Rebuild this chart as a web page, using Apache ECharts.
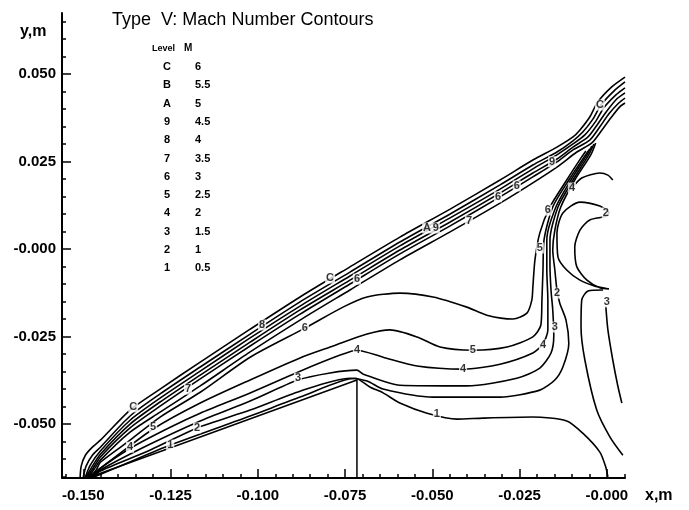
<!DOCTYPE html>
<html>
<head>
<meta charset="utf-8">
<script src="https://cdn.jsdelivr.net/npm/echarts@6/dist/echarts.min.js"></script>
<style>html,body{margin:0;padding:0;background:#fff;}#c{width:689px;height:510px;}</style>
</head>
<body>
<div id="c"></div>
<script>
// ---- axis ticks ----
const xMajorTicks = [-0.150,-0.125,-0.100,-0.075,-0.050,-0.025,0.000];
const xMajorLabels = ['-0.150','-0.125','-0.100','-0.075','-0.050','-0.025','-0.000'];
const xMinorTicks = [-0.155,-0.145,-0.140,-0.135,-0.130,-0.120,-0.115,-0.110,-0.105,-0.095,-0.090,-0.085,-0.080,-0.070,-0.065,-0.060,-0.055,-0.045,-0.040,-0.035,-0.030,-0.020,-0.015,-0.010,-0.005,0.005];
const yMajorTicks = [-0.050,-0.025,0.000,0.025,0.050];
const yMajorLabels = ['-0.050','-0.025','-0.000','0.025','0.050'];
const yMinorTicks = [-0.065,-0.060,-0.055,-0.045,-0.040,-0.035,-0.030,-0.020,-0.015,-0.010,-0.005,0.005,0.010,0.015,0.020,0.030,0.035,0.040,0.045,0.055,0.060,0.065];

// ---- level table ----
const levelNames = ['C','B','A','9','8','7','6','5','4','3','2','1'];
const levelMach = ['6','5.5','5','4.5','4','3.5','3','2.5','2','1.5','1','0.5'];

// ---- contour lines (x, y in metres) ----
const contourC = [[-0.1509,-0.0651],[-0.1506,-0.0620],[-0.1494,-0.0589],[-0.1474,-0.0566],[-0.1451,-0.0546],[-0.1366,-0.0460],[-0.1280,-0.0400],[-0.1165,-0.0323],[-0.1022,-0.0229],[-0.0879,-0.0137],[-0.0736,-0.0051],[-0.0593,0.0034],[-0.0449,0.0114],[-0.0306,0.0197],[-0.0212,0.0254],[-0.0143,0.0291],[-0.0097,0.0320],[-0.0077,0.0340],[-0.0049,0.0377],[-0.0026,0.0420],[0.0014,0.0463],[0.0052,0.0491]];
const contourB = [[-0.1500,-0.0651],[-0.1492,-0.0620],[-0.1474,-0.0589],[-0.1451,-0.0566],[-0.1366,-0.0477],[-0.1280,-0.0414],[-0.1165,-0.0337],[-0.1022,-0.0243],[-0.0879,-0.0151],[-0.0736,-0.0066],[-0.0593,0.0020],[-0.0449,0.0100],[-0.0306,0.0183],[-0.0212,0.0240],[-0.0143,0.0277],[-0.0097,0.0309],[-0.0069,0.0334],[-0.0040,0.0371],[-0.0017,0.0411],[0.0020,0.0451],[0.0052,0.0477]];
const contourA = [[-0.1494,-0.0651],[-0.1480,-0.0617],[-0.1451,-0.0577],[-0.1366,-0.0489],[-0.1280,-0.0426],[-0.1165,-0.0349],[-0.1022,-0.0254],[-0.0879,-0.0163],[-0.0736,-0.0077],[-0.0593,0.0009],[-0.0449,0.0089],[-0.0306,0.0171],[-0.0212,0.0229],[-0.0143,0.0269],[-0.0097,0.0300],[-0.0063,0.0326],[-0.0031,0.0366],[-0.0009,0.0403],[0.0026,0.0440],[0.0052,0.0460]];
const contour9 = [[-0.1492,-0.0651],[-0.1474,-0.0620],[-0.1451,-0.0586],[-0.1366,-0.0500],[-0.1280,-0.0437],[-0.1165,-0.0360],[-0.1022,-0.0266],[-0.0879,-0.0174],[-0.0736,-0.0089],[-0.0593,-0.0003],[-0.0449,0.0077],[-0.0306,0.0160],[-0.0212,0.0217],[-0.0143,0.0257],[-0.0097,0.0291],[-0.0054,0.0320],[-0.0026,0.0357],[0.0000,0.0394],[0.0029,0.0429],[0.0052,0.0446]];
const contour8 = [[-0.1489,-0.0651],[-0.1472,-0.0626],[-0.1451,-0.0594],[-0.1366,-0.0511],[-0.1280,-0.0449],[-0.1165,-0.0371],[-0.1022,-0.0277],[-0.0879,-0.0186],[-0.0736,-0.0100],[-0.0593,-0.0014],[-0.0449,0.0066],[-0.0306,0.0149],[-0.0212,0.0206],[-0.0143,0.0249],[-0.0097,0.0283],[-0.0049,0.0311],[-0.0020,0.0349],[0.0006,0.0386],[0.0034,0.0417],[0.0052,0.0431]];
const contour7 = [[-0.1486,-0.0651],[-0.1469,-0.0629],[-0.1451,-0.0603],[-0.1366,-0.0523],[-0.1280,-0.0466],[-0.1165,-0.0391],[-0.1022,-0.0294],[-0.0879,-0.0203],[-0.0736,-0.0117],[-0.0593,-0.0031],[-0.0449,0.0049],[-0.0306,0.0131],[-0.0212,0.0189],[-0.0143,0.0234],[-0.0086,0.0277],[-0.0043,0.0303],[-0.0014,0.0340],[0.0011,0.0374],[0.0037,0.0406],[0.0052,0.0417]];
const contour6 = [[-0.1483,-0.0651],[-0.1463,-0.0631],[-0.1451,-0.0609],[-0.1366,-0.0546],[-0.1280,-0.0480],[-0.1165,-0.0409],[-0.1022,-0.0309],[-0.0865,-0.0226],[-0.0756,-0.0166],[-0.0687,-0.0137],[-0.0593,-0.0126],[-0.0498,-0.0137],[-0.0401,-0.0166],[-0.0344,-0.0189],[-0.0269,-0.0200],[-0.0229,-0.0183],[-0.0215,-0.0146],[-0.0212,-0.0109],[-0.0206,-0.0031],[-0.0192,0.0046],[-0.0163,0.0120],[-0.0115,0.0197],[-0.0072,0.0263],[-0.0060,0.0280]];
const contour5 = [[-0.1480,-0.0651],[-0.1457,-0.0631],[-0.1394,-0.0583],[-0.1300,-0.0514],[-0.1165,-0.0440],[-0.1022,-0.0374],[-0.0879,-0.0311],[-0.0784,-0.0277],[-0.0687,-0.0243],[-0.0621,-0.0231],[-0.0544,-0.0251],[-0.0478,-0.0280],[-0.0384,-0.0289],[-0.0286,-0.0280],[-0.0212,-0.0251],[-0.0189,-0.0217],[-0.0186,-0.0146],[-0.0183,-0.0060],[-0.0180,0.0026],[-0.0155,0.0120],[-0.0109,0.0197],[-0.0063,0.0266],[-0.0049,0.0286]];
const contour4 = [[-0.1477,-0.0651],[-0.1451,-0.0626],[-0.1360,-0.0566],[-0.1251,-0.0509],[-0.1165,-0.0469],[-0.1022,-0.0411],[-0.0879,-0.0349],[-0.0764,-0.0303],[-0.0716,-0.0289],[-0.0641,-0.0309],[-0.0544,-0.0334],[-0.0412,-0.0343],[-0.0306,-0.0329],[-0.0212,-0.0297],[-0.0183,-0.0271],[-0.0169,-0.0231],[-0.0169,-0.0146],[-0.0172,-0.0060],[-0.0172,0.0026],[-0.0146,0.0120],[-0.0103,0.0197],[-0.0057,0.0269],[-0.0043,0.0294]];
const contour3 = [[-0.1474,-0.0651],[-0.1451,-0.0631],[-0.1308,-0.0557],[-0.1165,-0.0491],[-0.1022,-0.0434],[-0.0885,-0.0374],[-0.0793,-0.0354],[-0.0716,-0.0346],[-0.0699,-0.0357],[-0.0593,-0.0389],[-0.0401,-0.0391],[-0.0258,-0.0369],[-0.0192,-0.0340],[-0.0160,-0.0297],[-0.0152,-0.0246],[-0.0155,-0.0174],[-0.0160,-0.0117],[-0.0163,-0.0046],[-0.0163,0.0026],[-0.0140,0.0120],[-0.0097,0.0197],[-0.0052,0.0269],[-0.0037,0.0300]];
const contour2 = [[-0.1472,-0.0651],[-0.1451,-0.0634],[-0.1308,-0.0574],[-0.1174,-0.0511],[-0.1022,-0.0460],[-0.0879,-0.0406],[-0.0736,-0.0369],[-0.0687,-0.0377],[-0.0641,-0.0400],[-0.0498,-0.0423],[-0.0306,-0.0423],[-0.0192,-0.0403],[-0.0149,-0.0374],[-0.0126,-0.0337],[-0.0109,-0.0269],[-0.0117,-0.0203],[-0.0135,-0.0154],[-0.0143,-0.0117],[-0.0149,-0.0060],[-0.0155,-0.0003],[-0.0149,0.0054],[-0.0132,0.0120],[-0.0092,0.0197],[-0.0046,0.0269],[-0.0032,0.0303]];
const contour1 = [[-0.1469,-0.0651],[-0.1394,-0.0620],[-0.1251,-0.0560],[-0.1022,-0.0477],[-0.0879,-0.0423],[-0.0721,-0.0369],[-0.0679,-0.0394],[-0.0641,-0.0411],[-0.0593,-0.0440],[-0.0515,-0.0469],[-0.0429,-0.0486],[-0.0355,-0.0483],[-0.0212,-0.0480],[-0.0115,-0.0491],[-0.0069,-0.0526],[-0.0020,-0.0580],[-0.0003,-0.0623],[0.0003,-0.0651]];
const contourArc4 = [[-0.0100,0.0174],[-0.0072,0.0203],[-0.0020,0.0217],[0.0003,0.0211],[0.0017,0.0197]];
const contourCrescent2 = [[0.0006,0.0106],[-0.0020,0.0123],[-0.0077,0.0134],[-0.0126,0.0103],[-0.0143,0.0046],[-0.0140,-0.0023],[-0.0115,-0.0060],[-0.0077,-0.0089],[-0.0034,-0.0106],[0.0006,-0.0114],[-0.0020,-0.0111],[-0.0057,-0.0089],[-0.0086,-0.0051],[-0.0092,0.0006],[-0.0077,0.0054],[-0.0049,0.0083],[0.0000,0.0094],[0.0006,0.0106]];
const contourRight2 = [[-0.0011,-0.0117],[-0.0054,-0.0120],[-0.0072,-0.0146],[-0.0074,-0.0223],[-0.0063,-0.0317],[-0.0029,-0.0460],[0.0009,-0.0537],[0.0046,-0.0589]];
const contourRight3 = [[-0.0003,-0.0163],[0.0003,-0.0231],[0.0017,-0.0317],[0.0031,-0.0389],[0.0043,-0.0440]];
// body (wedge surface and base)
const bodyOutline = [[-0.1480,-0.0651],[-0.0716,-0.0374],[-0.0716,-0.0654]];

// ---- inline contour labels ----
const contourLabels = [
  ['C',-0.1357,-0.0451],['7',-0.1200,-0.0400],['5',-0.1300,-0.0509],['4',-0.1366,-0.0566],
  ['1',-0.1251,-0.0560],['2',-0.1174,-0.0511],['3',-0.0885,-0.0369],['4',-0.0716,-0.0289],
  ['6',-0.0865,-0.0226],['8',-0.0988,-0.0217],['C',-0.0793,-0.0083],['6',-0.0716,-0.0086],
  ['A',-0.0515,0.0060],['9',-0.0490,0.0060],['7',-0.0395,0.0080],['6',-0.0312,0.0149],
  ['6',-0.0258,0.0180],['9',-0.0157,0.0249],['5',-0.0384,-0.0289],['4',-0.0412,-0.0343],
  ['1',-0.0487,-0.0471],['4',-0.0183,-0.0274],['3',-0.0149,-0.0223],['2',-0.0143,-0.0126],
  ['6',-0.0169,0.0111],['5',-0.0192,0.0003],['4',-0.0100,0.0174],['2',-0.0003,0.0103],
  ['3',0.0000,-0.0151],['C',-0.0020,0.0411]
];

const contours = [contourC, contourB, contourA, contour9, contour8, contour7, contour6, contour5,
  contour4, contour3, contour2, contour1, contourArc4, contourCrescent2, contourRight2, contourRight3];

const chart = echarts.init(document.getElementById('c'), null, {renderer: 'canvas'});
const FONT = 'Liberation Sans, Arial, sans-serif';

function labelFor(ticks, labels) {
  return function (v) {
    for (let i = 0; i < ticks.length; i++) if (Math.abs(ticks[i] - v) < 1e-9) return labels[i];
    return '';
  };
}

const series = contours.map(function (d) {
  return {
    type: 'line', data: d, showSymbol: false, smooth: 0.25, silent: true,
    lineStyle: {color: '#000', width: 1.6}, z: 2
  };
});
series.push({
  type: 'line', data: bodyOutline, showSymbol: false, smooth: false, silent: true,
  lineStyle: {color: '#000', width: 1.5}, z: 2
});
series.push({
  type: 'scatter', silent: true, symbolSize: 1, itemStyle: {color: 'rgba(0,0,0,0)'}, z: 5,
  data: contourLabels.map(function (l) { return {name: l[0], value: [l[1], l[2]]}; }),
  label: {show: true, position: 'inside', formatter: '{b}', fontSize: 11, fontWeight: 'bold',
    fontFamily: FONT, color: '#000', backgroundColor: '#fff', padding: [0, 1]}
});

const graphics = [
  {type: 'text', left: 20, top: 24, style: {text: 'y,m', font: 'bold 16px ' + FONT, fill: '#000'}},
  {type: 'text', left: 645, top: 488, style: {text: 'x,m', font: 'bold 16px ' + FONT, fill: '#000'}},
  {type: 'text', left: 152, top: 44, style: {text: 'Level', font: 'bold 9px ' + FONT, fill: '#000'}},
  {type: 'text', left: 184, top: 43, style: {text: 'M', font: 'bold 10px ' + FONT, fill: '#000'}}
];
levelNames.forEach(function (n, i) {
  const yc = 67 + i * 18.3;
  graphics.push({type: 'text', x: 167, y: yc, style: {text: n, font: 'bold 11px ' + FONT, fill: '#000', textAlign: 'center', textVerticalAlign: 'middle'}});
  graphics.push({type: 'text', x: 195, y: yc, style: {text: levelMach[i], font: 'bold 11px ' + FONT, fill: '#000', textAlign: 'left', textVerticalAlign: 'middle'}});
});

const axisCommon = {
  type: 'value', splitLine: {show: false}, scale: false
};

chart.setOption({
  animation: false,
  backgroundColor: '#fff',
  title: {text: 'Type  V: Mach Number Contours', left: 107, top: 6,
    textStyle: {fontSize: 18, fontWeight: 'normal', fontFamily: FONT, color: '#000'}},
  grid: {left: 62, right: 64, top: 13, bottom: 32, containLabel: false},
  xAxis: [
    Object.assign({}, axisCommon, {
      min: -0.1561, max: 0.0052, position: 'bottom',
      axisLine: {show: true, onZero: false, lineStyle: {color: '#000', width: 2}},
      axisTick: {show: true, inside: true, length: 9, customValues: xMajorTicks, lineStyle: {color: '#000', width: 1.5}},
      axisLabel: {show: true, customValues: xMajorTicks, formatter: labelFor(xMajorTicks, xMajorLabels),
        margin: 10, fontSize: 15, fontWeight: 'bold', fontFamily: FONT, color: '#000'}
    }),
    Object.assign({}, axisCommon, {
      min: -0.1561, max: 0.0052, position: 'bottom',
      axisLine: {show: false, onZero: false},
      axisTick: {show: true, inside: true, length: 4, customValues: xMinorTicks, lineStyle: {color: '#000', width: 1.5}},
      axisLabel: {show: false}
    })
  ],
  yAxis: [
    Object.assign({}, axisCommon, {
      min: -0.0654, max: 0.0674, position: 'left',
      axisLine: {show: true, onZero: false, lineStyle: {color: '#000', width: 2}},
      axisTick: {show: true, inside: true, length: 9, customValues: yMajorTicks, lineStyle: {color: '#000', width: 1.5}},
      axisLabel: {show: true, customValues: yMajorTicks, formatter: labelFor(yMajorTicks, yMajorLabels),
        margin: 6, fontSize: 15, fontWeight: 'bold', fontFamily: FONT, color: '#000'}
    }),
    Object.assign({}, axisCommon, {
      min: -0.0654, max: 0.0674, position: 'left',
      axisLine: {show: false, onZero: false},
      axisTick: {show: true, inside: true, length: 4, customValues: yMinorTicks, lineStyle: {color: '#000', width: 1.5}},
      axisLabel: {show: false}
    })
  ],
  graphic: graphics,
  series: series
});
</script>
</body>
</html>
